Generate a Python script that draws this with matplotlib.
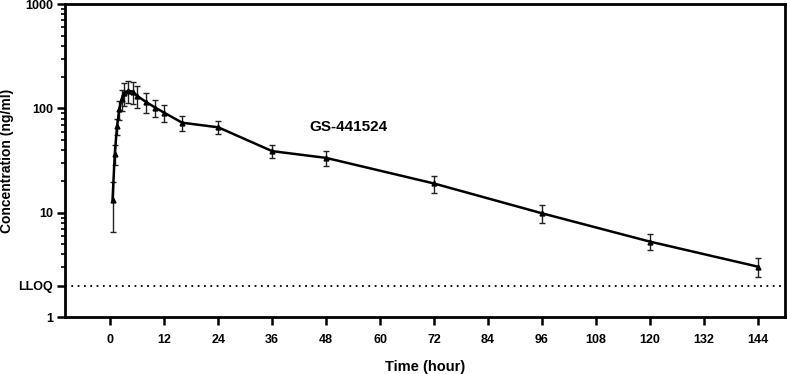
import matplotlib
matplotlib.use("Agg")
from matplotlib import pyplot as plt
from matplotlib.ticker import FixedLocator, NullFormatter

plt.rcParams['font.family'] = ['Liberation Sans', 'DejaVu Sans']
plt.rcParams['font.weight'] = 'bold'

# mean concentration of GS-441524 over time, with SD
time_h = [0.5, 1, 1.5, 2, 2.5, 3, 4, 5, 6, 8, 10, 12, 16, 24, 36, 48, 72, 96, 120, 144]
conc = [13.2, 36.7, 67.5, 98, 122, 140, 148, 145, 132, 115, 102, 91, 73, 66, 39, 33.6, 19.1, 9.9, 5.3, 3.05]
conc_sd = [6.6, 8, 12, 20, 28, 34, 35, 34, 31, 25, 19, 17, 12, 9.5, 5.5, 5.5, 3.5, 1.9, 0.9, 0.65]
lloq = 2
x_ticks = list(range(0, 145, 12))

fig = plt.figure(figsize=(7.87, 3.74), dpi=100)
ax = fig.add_axes([0.083, 0.152, 0.914, 0.837])

ax.errorbar(time_h, conc, yerr=conc_sd, color='black', lw=1.8, marker='^', ms=3.5,
            elinewidth=1.0, capsize=2.5, capthick=1.0, ecolor='#222222')
ax.axhline(lloq, color='black', ls=(0, (1, 2.5)), lw=1.3)

ax.set_yscale('log')
ax.set_ylim(1, 1000)
ax.set_xlim(-10, 150)
ax.set_xticks(x_ticks)
ax.set_xticklabels([str(t) for t in x_ticks])
ax.set_yticks([1, lloq, 10, 100, 1000])
ax.set_yticklabels(['1', 'LLOQ', '10', '100', '1000'])
minors = [m * d for d in [1, 10, 100] for m in range(2, 10)]
ax.yaxis.set_minor_locator(FixedLocator(minors))
ax.yaxis.set_minor_formatter(NullFormatter())

ax.tick_params(axis='both', which='major', direction='out', length=6, width=1.8,
               labelsize=9, pad=3)
ax.tick_params(axis='x', which='major', pad=6)
ax.tick_params(axis='y', which='minor', direction='out', length=3, width=1.2)
for s in ax.spines.values():
    s.set_linewidth(2)

ax.set_xlabel('Time (hour)', fontsize=10.5, fontweight='bold', labelpad=10)
ax.set_ylabel('Concentration (ng/ml)', fontsize=10, fontweight='bold', labelpad=3)
ax.text(53, 66, 'GS-441524', fontsize=11, fontweight='bold', ha='center', va='center')

fig.savefig('out.png', dpi=100)
